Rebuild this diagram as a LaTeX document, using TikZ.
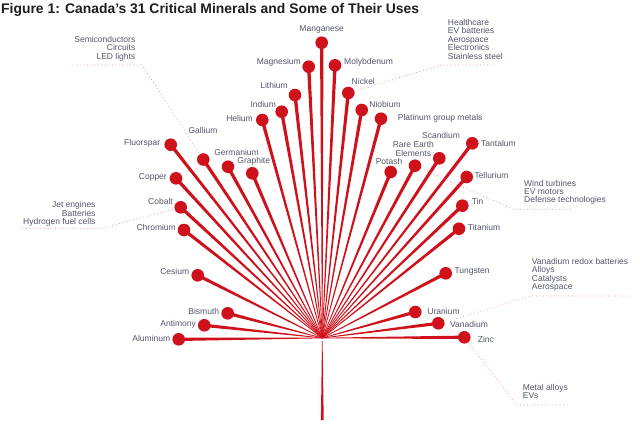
\documentclass[tikz,border=0pt]{standalone}
\usepackage{fontspec}
\setmainfont{Liberation Sans}
\usetikzlibrary{calc, backgrounds}
\definecolor{dotred}{RGB}{206,17,27}
\definecolor{lbltxt}{RGB}{82,86,104}
\definecolor{leadpink}{RGB}{232,128,132}
\definecolor{ttldark}{RGB}{30,30,32}
\tikzset{
  mindot/.style={circle, fill=dotred, inner sep=0pt, minimum size=12.6pt},
  stemfill/.style={fill=dotred},
  lbl/.style={font=\fontsize{8.5}{8.5}\selectfont, text=lbltxt, inner sep=0pt, align=center},
  uses/.style={font=\fontsize{8.5}{8.45}\selectfont, text=lbltxt, inner sep=0pt},
  leader/.style={draw=leadpink, line width=1pt, line cap=round, dash pattern=on 0pt off 3.6pt},
  figtitle/.style={font=\fontsize{13.9}{16}\selectfont\bfseries, text=ttldark, inner sep=0pt}
}

\begin{document}
\begin{tikzpicture}[x=1pt, y=-1pt]
  \useasboundingbox (0,0) rectangle (640,426);
  % Title
  \node[figtitle, anchor=base west] (ttl) at (1,13.5) {Figure 1: Canada’s 31 Critical Minerals and Some of Their Uses};

  % Hub and trunk
  \coordinate (hub) at (322.3,338);
  \coordinate (root) at (322.3,420);
  \fill[stemfill] ($(hub)+(-0.3,3)$) -- ($(hub)+(0.3,3)$) -- ($(root)+(1.4,0)$) -- ($(root)+(-1.4,0)$) -- cycle;

  % Minerals: name/x/y/anchor/label x/label y/text
  \foreach \n/\x/\y/\an/\lx/\ly/\t in {
    alu/178.7/339.3/east/170.4/338.7/Aluminum,
    ant/204.3/325.3/east/196/324/Antimony,
    bis/227.7/313.3/east/219.3/311.7/Bismuth,
    ces/197.7/275.3/east/189.3/271.7/Cesium,
    chr/184/230/east/176/227.7/Chromium,
    cob/180.7/207.3/east/173/201.7/Cobalt,
    cop/176/178.3/east/167/177.7/Copper,
    flu/170.7/144.7/east/160.3/143.7/Fluorspar,
    gal/203.3/159.5/center/203/130.7/Gallium,
    ger/228/166.7/center/236.5/152.7/Germanium,
    gra/252.3/173.3/center/253.7/161.7/Graphite,
    hel/262.3/120/east/253/118.7/Helium,
    ind/281.7/111.7/center/263.3/104.3/Indium,
    lit/295/95/center/274/85.3/Lithium,
    mgs/308.7/66.7/east/301/62.7/Magnesium,
    mng/321.7/42.7/center/321.7/29.3/Manganese,
    mol/335/65.3/west/344/62.7/Molybdenum,
    nic/348.3/93/center/363.3/81/Nickel,
    nio/361.7/110/center/385/104.3/Niobium,
    pgm/381/118.7/west/397.7/118.7/Platinum group metals,
    pot/390.7/172/center/389/161.7/Potash,
    ree/415/165.7/center/413.3/149/{Rare Earth\\Elements},
    sca/439.3/158.3/center/441/135.7/Scandium,
    tan/472.3/143.3/west/481/143/Tantalum,
    tel/466.7/177/west/474.3/175.7/Tellurium,
    tin/462.3/205.7/west/471.7/201/Tin,
    tit/459/228.7/west/467.7/227.7/Titanium,
    tun/445.7/273.3/west/454.3/271.7/Tungsten,
    ura/415.3/312/west/427.3/311.7/Uranium,
    van/438.3/323.3/west/450/324.7/Vanadium,
    zin/464.3/337.3/west/477.7/339/Zinc
  }{
    \node[mindot] (\n) at (\x,\y) {};
    \node[lbl, anchor=\an] (\n-l) at (\lx,\ly) {\t};
    \begin{pgfonlayer}{background}
      \fill[stemfill] ($(hub)!0.3pt!90:(\n)$) -- ($(\n)!1.7pt!-90:(hub)$) -- ($(\n)!1.7pt!90:(hub)$) -- ($(hub)!0.3pt!-90:(\n)$) -- cycle;
    \end{pgfonlayer}
  }

  % Uses
  \node[uses, align=right, anchor=east] (semi) at (135.5,48.5) {Semiconductors\\Circuits\\LED lights};
  \node[uses, align=left, anchor=west] (heal) at (447.7,39.3) {Healthcare\\EV batteries\\Aerospace\\Electronics\\Stainless steel};
  \node[uses, align=right, anchor=east] (jet) at (95.7,214) {Jet engines\\Batteries\\Hydrogen fuel cells};
  \node[uses, align=left, anchor=west] (wind) at (524,192.3) {Wind turbines\\EV motors\\Defense technologies};
  \node[uses, align=left, anchor=west] (vana) at (531.7,275) {Vanadium redox batteries\\Alloys\\Catalysts\\Aerospace};
  \node[uses, align=left, anchor=west] (metal) at (522.7,391.7) {Metal alloys\\EVs};

  % Leader lines
  \coordinate (semi-a) at (73,65);
  \coordinate (semi-b) at (142,65);
  \coordinate (heal-a) at (494,65);
  \coordinate (heal-b) at (442,65);
  \coordinate (jet-a) at (23,228.7);
  \coordinate (jet-b) at (100,228.7);
  \coordinate (wind-a) at (571.7,209.3);
  \coordinate (wind-b) at (513,209.3);
  \coordinate (vana-a) at (628.3,296);
  \coordinate (vana-b) at (531.7,296);
  \coordinate (vana-c) at (456.7,318.3);
  \coordinate (metal-a) at (570,405);
  \coordinate (metal-b) at (516.7,405);
  \draw[leader] (semi-a) -- (semi-b) -- (gal);
  \draw[leader] (nic) -- (heal-b) -- (heal-a);
  \draw[leader] (jet-a) -- (jet-b) -- (cob);
  \draw[leader] (ree) -- (wind-b) -- (wind-a);
  \draw[leader] (vana-c) -- (vana-b) -- (vana-a);
  \draw[leader] (zin) -- (metal-b) -- (metal-a);
\end{tikzpicture}
\end{document}
